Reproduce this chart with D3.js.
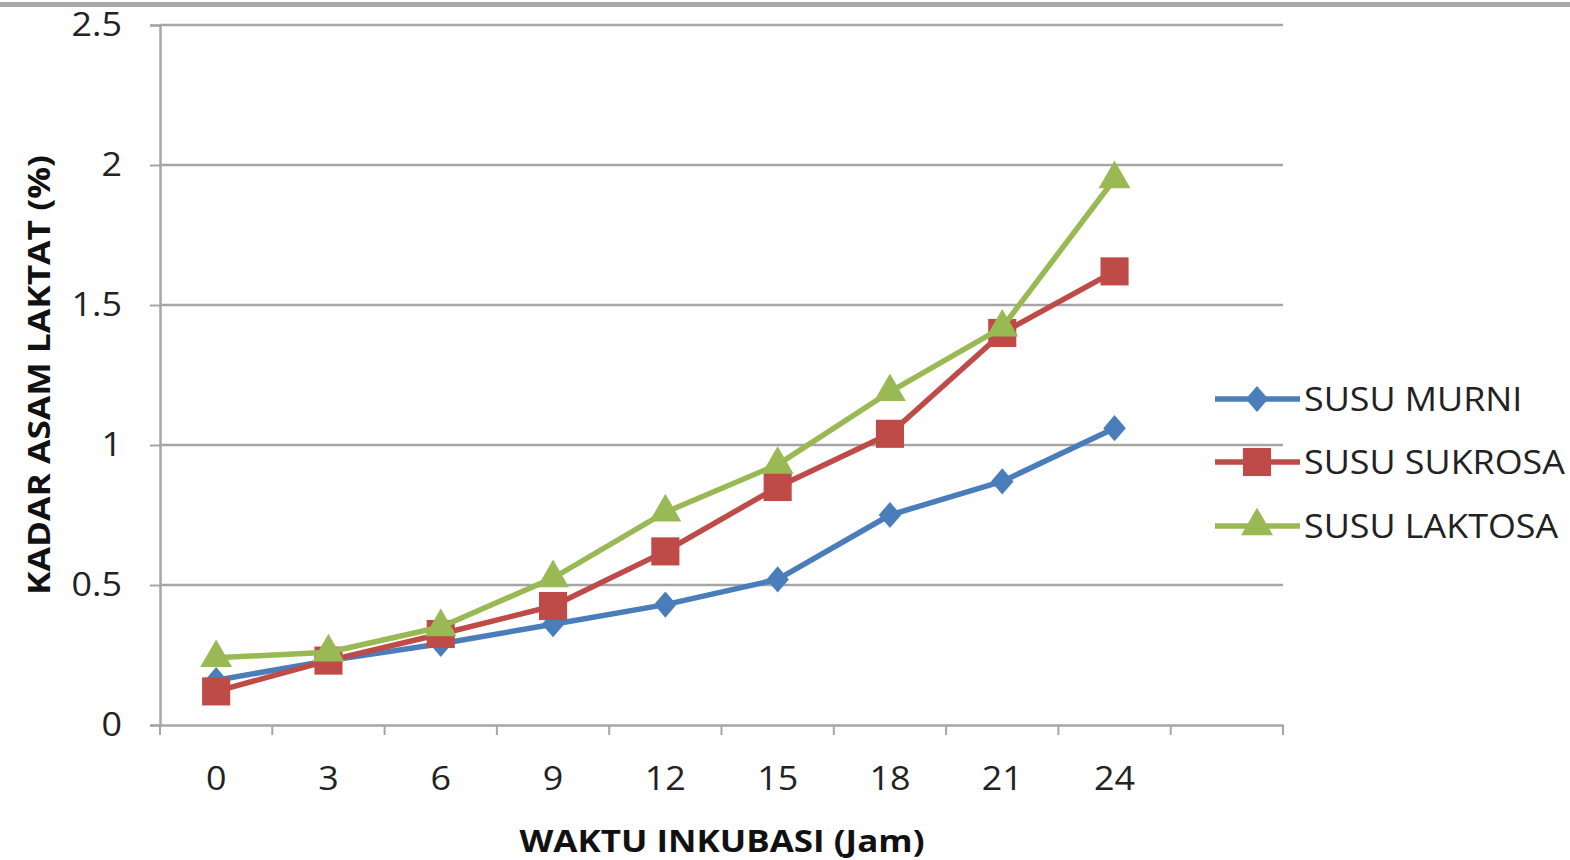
<!DOCTYPE html>
<html><head><meta charset="utf-8">
<script src="https://cdn.jsdelivr.net/npm/d3@7"></script>
<style>body{margin:0;background:#fff;} svg{display:block;}</style>
</head><body>
<svg id="c" width="1570" height="860"></svg>
<script>
const categories = ["0","3","6","9","12","15","18","21","24",""];
const yTicks = [0, 0.5, 1, 1.5, 2, 2.5];
const yTickLabels = ["0","0.5","1","1.5","2","2.5"];
const susuMurni   = [0.16, 0.23, 0.29, 0.36, 0.43, 0.52, 0.75, 0.87, 1.06];
const susuSukrosa = [0.12, 0.23, 0.325, 0.425, 0.62, 0.85, 1.04, 1.40, 1.62];
const susuLaktosa = [0.24, 0.26, 0.35, 0.525, 0.76, 0.93, 1.19, 1.42, 1.95];
const seriesNames = ["SUSU MURNI","SUSU SUKROSA","SUSU LAKTOSA"];

const diamond = {
  draw(ctx, size) {
    const w = Math.sqrt(size) * 0.62, h = Math.sqrt(size) * 0.72;
    ctx.moveTo(0, -h); ctx.lineTo(w, 0); ctx.lineTo(0, h); ctx.lineTo(-w, 0); ctx.closePath();
  }
};

const series = [
  {name: seriesNames[0], values: susuMurni, color: "#4a7ebb", marker: diamond, size: 330},
  {name: seriesNames[1], values: susuSukrosa, color: "#be4b48", marker: d3.symbolSquare, size: 790},
  {name: seriesNames[2], values: susuLaktosa, color: "#98b954", marker: d3.symbolTriangle, size: 440}
];

const svg = d3.select("#c");
const L = 160, R = 1283, T = 25, B = 725;
const x = d3.scaleBand().domain(categories.map((c,i)=>i)).range([L, R]);
const y = d3.scaleLinear().domain([0, 2.5]).range([B, T]);
const font = "'Open Sans', 'Liberation Sans', sans-serif";
const stretch = sel => sel.each(function(){
  const len = this.getComputedTextLength();
  if (len > 0) d3.select(this).attr("textLength", len * 1.12).attr("lengthAdjust", "spacingAndGlyphs");
});

// top gray bar
svg.append("rect").attr("x",0).attr("y",2).attr("width",1570).attr("height",5).attr("fill","#a8a8a8");

// gridlines
svg.append("g").selectAll("line").data(yTicks.filter(d=>d>0)).join("line")
  .attr("x1", L).attr("x2", R).attr("y1", d=>y(d)).attr("y2", d=>y(d))
  .attr("stroke", "#a6a6a6").attr("stroke-width", 2.5);

// y axis
const yAxis = d3.axisLeft(y).tickValues(yTicks).tickFormat((d,i)=>yTickLabels[i]).tickSize(10).tickPadding(28);
const gy = svg.append("g").attr("transform", `translate(${L},0)`).call(yAxis);
gy.select(".domain").attr("stroke","#a6a6a6").attr("stroke-width",2.5);
gy.selectAll(".tick line").attr("stroke","#a6a6a6").attr("stroke-width",2);
gy.selectAll("text").attr("font-family", font).attr("font-size", 32).attr("fill","#222").call(stretch);

// x axis
const xAxis = d3.axisBottom(x).tickFormat(i=>categories[i]).tickSize(0).tickPadding(42);
const gx = svg.append("g").attr("transform", `translate(0,${B})`).call(xAxis);
gx.select(".domain").attr("stroke","#a6a6a6").attr("stroke-width",2.5);
gx.selectAll("text").attr("font-family", font).attr("font-size", 32).attr("fill","#222").call(stretch);
// band boundary ticks
const bounds = d3.range(categories.length+1).map(i => L + i*x.step());
svg.append("g").selectAll("line").data(bounds).join("line")
  .attr("x1", d=>d).attr("x2", d=>d).attr("y1", B).attr("y2", B+10)
  .attr("stroke","#a6a6a6").attr("stroke-width",2);

const cx = i => x(i) + x.bandwidth()/2;
const line = d3.line().x((d,i)=>cx(i)).y(d=>y(d));

series.forEach(s => {
  const g = svg.append("g");
  g.append("path").datum(s.values).attr("d", line).attr("fill","none")
    .attr("stroke", s.color).attr("stroke-width", 5.5).attr("stroke-linejoin","round");
  g.selectAll("path.m").data(s.values).join("path").attr("class","m")
    .attr("transform",(d,i)=>`translate(${cx(i)},${y(d)})`)
    .attr("d", d3.symbol().type(s.marker).size(s.size))
    .attr("fill", s.color);
});

// legend
const legY = [399, 462, 526];
series.forEach((s,k) => {
  const g = svg.append("g").attr("transform", `translate(0,${legY[k]})`);
  g.append("line").attr("x1",1215).attr("x2",1300).attr("y1",0).attr("y2",0)
    .attr("stroke", s.color).attr("stroke-width",5.5);
  g.append("path").attr("transform","translate(1257,0)")
    .attr("d", d3.symbol().type(s.marker).size(s.size)).attr("fill", s.color);
  g.append("text").attr("x",1304).attr("y",0).attr("dy","0.36em")
    .attr("font-family", font).attr("font-size", 32).attr("fill","#222").text(s.name).call(stretch);
});

// axis titles
svg.append("text").attr("x", 722).attr("y", 852).attr("text-anchor","middle")
  .attr("font-family", font).attr("font-weight","bold").attr("font-size", 31).attr("fill","#111")
  .attr("textLength", 405).attr("lengthAdjust","spacingAndGlyphs")
  .text("WAKTU INKUBASI (Jam)");
svg.append("text").attr("transform","translate(50,375) rotate(-90)").attr("text-anchor","middle")
  .attr("font-family", font).attr("font-weight","bold").attr("font-size", 31).attr("fill","#111")
  .attr("textLength", 440).attr("lengthAdjust","spacingAndGlyphs")
  .text("KADAR ASAM LAKTAT (%)");
</script>
</body></html>
